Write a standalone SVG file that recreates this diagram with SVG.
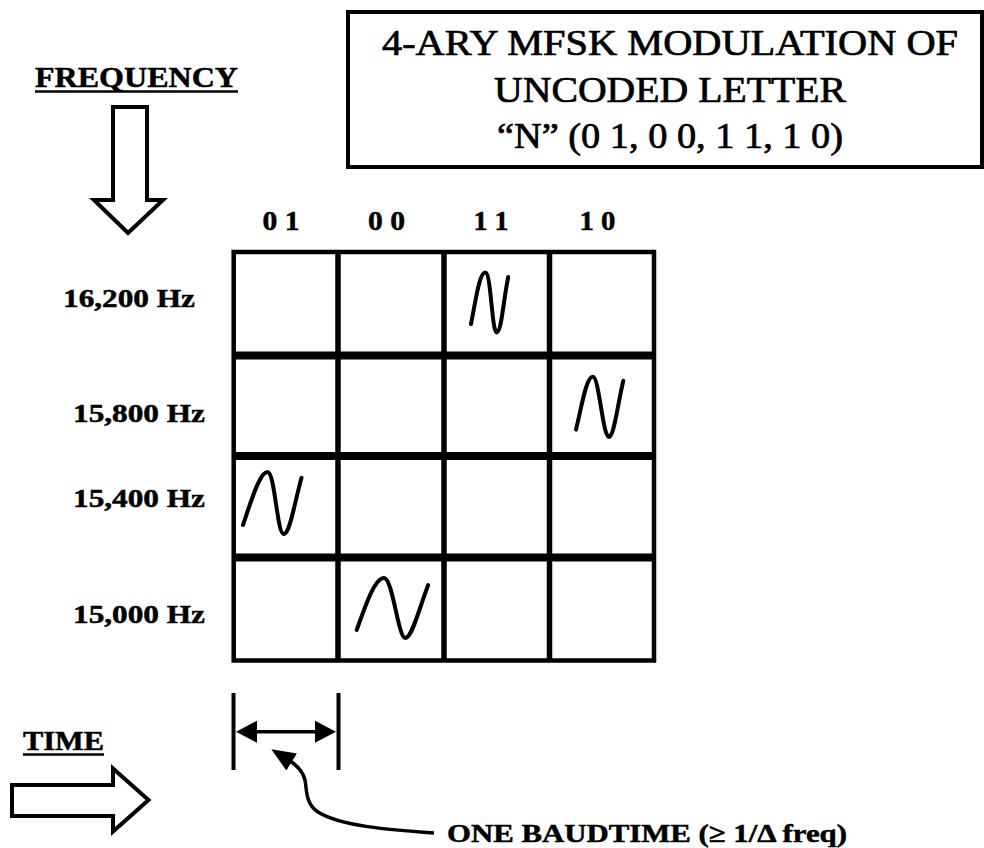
<svg xmlns="http://www.w3.org/2000/svg" width="984" height="848" viewBox="0 0 984 848">
<style>
.serif{font-family:"Liberation Serif","Times New Roman",serif;fill:#000;stroke:#000;stroke-width:0.5}
.b{font-weight:bold}
.title{font-size:35px;text-anchor:middle;stroke-width:0.7}
.hdr{font-size:27px;font-weight:bold;text-anchor:middle}
.freq{font-size:26px;font-weight:bold}
.outline{fill:#fff;stroke:#000;stroke-width:4;stroke-linejoin:miter}
.ul{stroke:#000;stroke-width:2.5}
.wave{fill:none;stroke:#000;stroke-width:4;stroke-linecap:round;stroke-linejoin:round}
.vline{stroke:#000;stroke-width:5.5}
.hline{stroke:#000;stroke-width:8}
.conn{fill:none;stroke:#000;stroke-width:3.5}
</style>
<defs>
<marker id="ah" viewBox="0 0 21 22" refX="17" refY="11" markerWidth="21" markerHeight="22" markerUnits="userSpaceOnUse" orient="auto-start-reverse">
<path d="M0,0 L21,11 L0,22 z" fill="#000"/>
</marker>
<marker id="ptr" viewBox="0 0 24 20" refX="2" refY="10" markerWidth="24" markerHeight="20" markerUnits="userSpaceOnUse" orient="auto">
<path d="M0,0 L24,10 L0,20 z" fill="#000"/>
</marker>
</defs>
<rect width="984" height="848" fill="#fff"/>

<g id="title">
<rect x="348" y="12" width="634" height="155" fill="#fff" stroke="#000" stroke-width="4"/>
<text class="serif title" x="670" y="55" textLength="576" lengthAdjust="spacingAndGlyphs">4-ARY MFSK MODULATION OF</text>
<text class="serif title" x="670" y="102" textLength="352" lengthAdjust="spacingAndGlyphs">UNCODED LETTER</text>
<text class="serif title" x="670" y="148" textLength="346" lengthAdjust="spacingAndGlyphs">“N” (0 1, 0 0, 1 1, 1 0)</text>
</g>

<g id="frequency-axis">
<text class="serif b" x="35" y="87" font-size="30" textLength="203" lengthAdjust="spacingAndGlyphs">FREQUENCY</text>
<line class="ul" x1="35" y1="91.5" x2="238" y2="91.5"/>
<path class="outline" d="M113,107 L147,107 L147,200 L163,200 L128,233 L94,200 L113,200 Z"/>
</g>

<g id="column-headers">
<text class="serif hdr" x="281" y="230" textLength="37" lengthAdjust="spacingAndGlyphs">0 1</text>
<text class="serif hdr" x="386.5" y="230" textLength="37" lengthAdjust="spacingAndGlyphs">0 0</text>
<text class="serif hdr" x="491" y="230" textLength="35" lengthAdjust="spacingAndGlyphs">1 1</text>
<text class="serif hdr" x="597.5" y="230" textLength="36" lengthAdjust="spacingAndGlyphs">1 0</text>
</g>

<g id="row-labels">
<text class="serif freq" x="63" y="306.5" textLength="132" lengthAdjust="spacingAndGlyphs">16,200 Hz</text>
<text class="serif freq" x="73" y="421.5" textLength="132" lengthAdjust="spacingAndGlyphs">15,800 Hz</text>
<text class="serif freq" x="73" y="506.5" textLength="132" lengthAdjust="spacingAndGlyphs">15,400 Hz</text>
<text class="serif freq" x="73" y="623" textLength="132" lengthAdjust="spacingAndGlyphs">15,000 Hz</text>
</g>

<g id="grid">
<rect x="233.7" y="252" width="420.3" height="408.5" fill="#fff" stroke="#000" stroke-width="4.5"/>
<line class="vline" x1="338" y1="252" x2="338" y2="660.5"/>
<line class="vline" x1="444" y1="252" x2="444" y2="660.5"/>
<line class="vline" x1="549.5" y1="252" x2="549.5" y2="660.5"/>
<line class="hline" x1="233.7" y1="355.5" x2="654" y2="355.5"/>
<line class="hline" x1="233.7" y1="456" x2="654" y2="456"/>
<line class="hline" x1="233.7" y1="557.5" x2="654" y2="557.5"/>
</g>

<g id="waves">
<path class="wave" d="M471,324 C475,305 479,272 485.5,272.6 C491,273 492,333 496.6,332.4 C501.5,332 503,303 508.2,277"/>
<path class="wave" d="M576,429.6 C581,410 586,376 593,376.7 C599,377 603,438 609,437 C614,436 617,408 623.3,380.7"/>
<path class="wave" d="M243,525 C250,505 259,472 267.5,472 C275,472 277,535 284,534 C290,533 294,505 301.5,477.7"/>
<path class="wave" d="M356.7,630 C364,610 374,578 384,578 C393,578 398,639 405.7,638 C412,637 418,612 428.2,585"/>
</g>

<g id="time-axis">
<text class="serif b" x="23" y="750" font-size="27" textLength="81" lengthAdjust="spacingAndGlyphs">TIME</text>
<line class="ul" x1="23" y1="754.5" x2="104" y2="754.5"/>
<path class="outline" d="M12,785 L113,785 L113,768.5 L148.5,800 L113,831.5 L113,816 L12,816 Z"/>
</g>

<g id="baud-bracket">
<line x1="233.5" y1="693" x2="233.5" y2="770" stroke="#000" stroke-width="4"/>
<line x1="338.5" y1="693" x2="338.5" y2="770" stroke="#000" stroke-width="4"/>
</g>

<g id="baud-label">
<text class="serif b" x="447" y="841.5" font-size="26" textLength="400" lengthAdjust="spacingAndGlyphs">ONE BAUDTIME (≥ 1/Δ freq)</text>
</g>

<g id="connectors">
<line class="conn" x1="240" y1="731.7" x2="332" y2="731.7" marker-start="url(#ah)" marker-end="url(#ah)"/>
<path class="conn" d="M434,833 C390,830 340,826 318,812 C305,803 307,790 305,780 C303,772 298,766 290,761" marker-end="url(#ptr)"/>
</g>
</svg>
